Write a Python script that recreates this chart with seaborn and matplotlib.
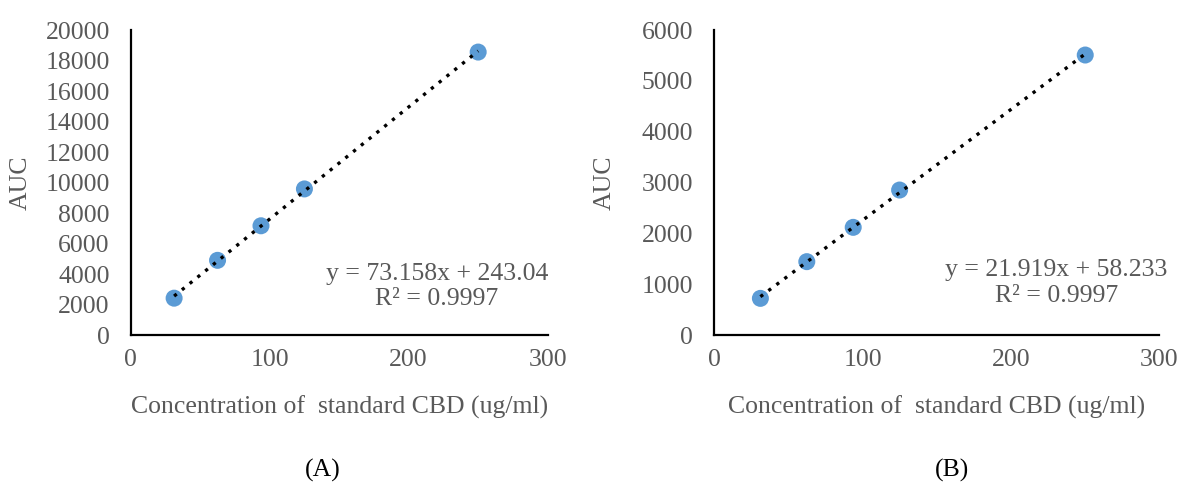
import numpy as np
import pandas as pd
import matplotlib
matplotlib.use("Agg")
import matplotlib.pyplot as plt
import seaborn as sns

# datos de la curva de calibración
conc = [31.25, 62.5, 93.75, 125, 250]
auc_a = [2416, 4897, 7163, 9579, 18554]
auc_b = [721, 1443, 2118, 2852, 5508]
eq_a = "y = 73.158x + 243.04\nR² = 0.9997"
eq_b = "y = 21.919x + 58.233\nR² = 0.9997"
yticks_a = list(range(0, 20001, 2000))
yticks_b = list(range(0, 6001, 1000))
xticks = [0, 100, 200, 300]

sns.set_style("white")
plt.rcParams['font.family'] = ['Liberation Serif', 'DejaVu Serif']

gris = '#595959'
azul = '#5B9BD5'
fs = 18.5

fig = plt.figure(figsize=(11.88, 4.88), dpi=100)
axA = fig.add_axes([0.110, 0.3135, 0.351, 0.625])
axB = fig.add_axes([0.601, 0.3135, 0.375, 0.625])

paneles = [
    (axA, auc_a, yticks_a, eq_a, (0.734, 0.160), "(A)", 0.272, -0.237),
    (axB, auc_b, yticks_b, eq_b, (0.769, 0.170), "(B)", 0.801, -0.22),
]

for ax, auc, yt, eq, pos, letra, xletra, xylab in paneles:
    df = pd.DataFrame({'conc': conc, 'auc': auc})
    sns.regplot(data=df, x='conc', y='auc', ax=ax, ci=None,
                scatter_kws=dict(s=150, color=azul, alpha=1, edgecolor='none', zorder=2),
                line_kws=dict(color='black', lw=2.4, linestyle=(0, (1, 2.0)), zorder=3))
    ax.set_xlim(0, 300)
    ax.set_ylim(0, yt[-1])
    ax.set_xticks(xticks)
    ax.set_yticks(yt)
    ax.tick_params(length=0, labelsize=fs, labelcolor=gris)
    ax.tick_params(axis='x', pad=10)
    ax.tick_params(axis='y', pad=15)
    for s in ['top', 'right']:
        ax.spines[s].set_visible(False)
    for s in ['left', 'bottom']:
        ax.spines[s].set_color('black')
        ax.spines[s].set_linewidth(1.6)
    ax.set_xlabel("Concentration of  standard CBD (ug/ml)", fontsize=fs, color=gris, labelpad=18)
    ax.set_ylabel("AUC", fontsize=fs, color=gris)
    ax.yaxis.set_label_coords(xylab, 0.5)
    ax.text(pos[0], pos[1], eq, transform=ax.transAxes, ha='center', va='center',
            fontsize=fs, color=gris, linespacing=1.2)
    fig.text(xletra, 0.035, letra, ha='center', va='center', fontsize=fs, color='black')

fig.savefig('out.png', dpi=100)
